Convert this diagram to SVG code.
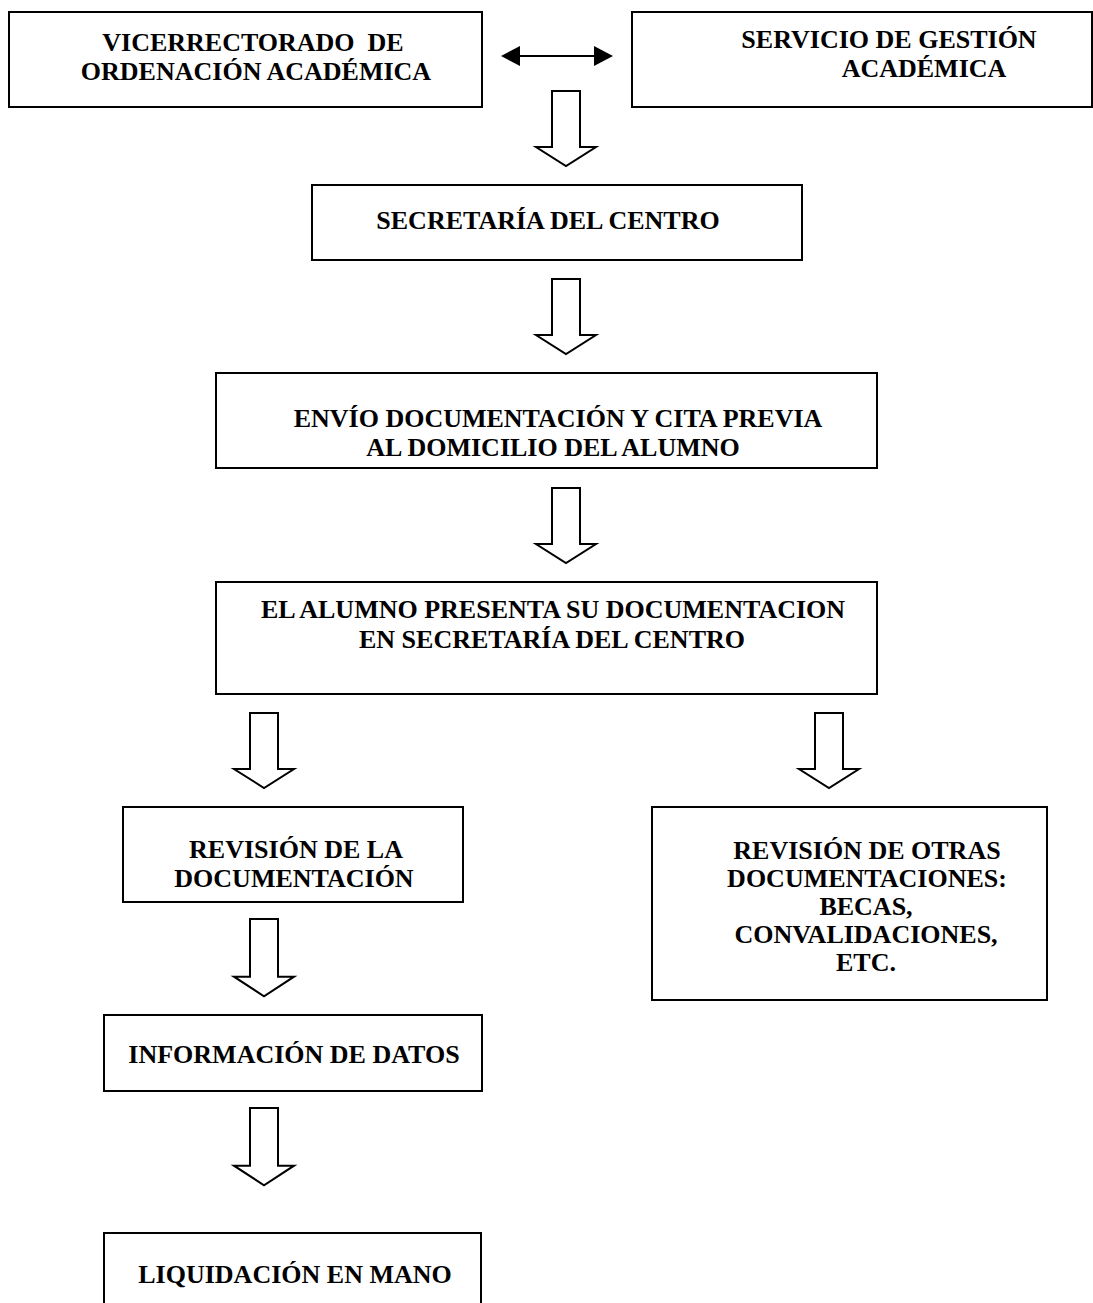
<svg xmlns="http://www.w3.org/2000/svg" xmlns:xlink="http://www.w3.org/1999/xlink" width="1093" height="1303" viewBox="0 0 1093 1303">
  <style>
    .box { fill: #ffffff; stroke: #000000; stroke-width: 2; }
    .lbl { font-family: "Liberation Serif", "Times New Roman", serif; font-weight: bold; font-size: 26px; fill: #000000; text-anchor: middle; white-space: pre; }
    .flow { fill: #ffffff; stroke: #000000; stroke-width: 2; stroke-linejoin: miter; }
    .link { stroke: #000000; stroke-width: 2; fill: none; }
  </style>
  <defs>
    <!-- hollow block arrow pointing down; origin at top centre of the shaft -->
    <path id="down" class="flow" d="M-14,0 H14 V56 H30 L0,75 L-30,56 H-14 Z"/>
  </defs>
  <rect width="1093" height="1303" fill="#ffffff"/>

  <g id="connectors">
    <!-- two-way link between the top boxes -->
    <line class="link" x1="520" y1="56" x2="594" y2="56"/>
    <path d="M501,56 L520,46 L520,66 Z" fill="#000000"/>
    <path d="M613,56 L594,46 L594,66 Z" fill="#000000"/>
    <use xlink:href="#down" href="#down" transform="translate(566,91)"/>
    <use xlink:href="#down" href="#down" transform="translate(566,279)"/>
    <use xlink:href="#down" href="#down" transform="translate(566,488)"/>
    <use xlink:href="#down" href="#down" transform="translate(264,713)"/>
    <use xlink:href="#down" href="#down" transform="translate(829,713)"/>
    <use xlink:href="#down" href="#down" transform="translate(264,919) scale(1,1.03)"/>
    <use xlink:href="#down" href="#down" transform="translate(264,1108) scale(1,1.03)"/>
  </g>

  <g id="vicerrectorado">
    <rect class="box" x="9" y="12" width="473" height="95"/>
    <text class="lbl" x="253" y="51" xml:space="preserve">VICERRECTORADO  DE</text>
    <text class="lbl" x="256" y="80">ORDENACIÓN ACADÉMICA</text>
  </g>

  <g id="servicio-gestion">
    <rect class="box" x="632" y="12" width="460" height="95"/>
    <text class="lbl" x="889" y="48">SERVICIO DE GESTIÓN</text>
    <text class="lbl" x="924" y="77">ACADÉMICA</text>
  </g>

  <g id="secretaria">
    <rect class="box" x="312" y="185" width="490" height="75"/>
    <text class="lbl" x="548" y="229">SECRETARÍA DEL CENTRO</text>
  </g>

  <g id="envio-documentacion">
    <rect class="box" x="216" y="373" width="661" height="95"/>
    <text class="lbl" x="558" y="427">ENVÍO DOCUMENTACIÓN Y CITA PREVIA</text>
    <text class="lbl" x="553" y="456">AL DOMICILIO DEL ALUMNO</text>
  </g>

  <g id="alumno-presenta">
    <rect class="box" x="216" y="582" width="661" height="112"/>
    <text class="lbl" x="553" y="618">EL ALUMNO PRESENTA SU DOCUMENTACION</text>
    <text class="lbl" x="552" y="648">EN SECRETARÍA DEL CENTRO</text>
  </g>

  <g id="revision-documentacion">
    <rect class="box" x="123" y="807" width="340" height="95"/>
    <text class="lbl" x="296" y="858">REVISIÓN DE LA</text>
    <text class="lbl" x="294" y="887">DOCUMENTACIÓN</text>
  </g>

  <g id="revision-otras">
    <rect class="box" x="652" y="807" width="395" height="193"/>
    <text class="lbl" x="867" y="859">REVISIÓN DE OTRAS</text>
    <text class="lbl" x="867" y="887">DOCUMENTACIONES:</text>
    <text class="lbl" x="866" y="915">BECAS,</text>
    <text class="lbl" x="866" y="943">CONVALIDACIONES,</text>
    <text class="lbl" x="866" y="971">ETC.</text>
  </g>

  <g id="informacion-datos">
    <rect class="box" x="104" y="1015" width="378" height="76"/>
    <text class="lbl" x="294" y="1063">INFORMACIÓN DE DATOS</text>
  </g>

  <g id="liquidacion">
    <rect class="box" x="104" y="1233" width="377" height="90"/>
    <text class="lbl" x="295" y="1283">LIQUIDACIÓN EN MANO</text>
  </g>
</svg>
